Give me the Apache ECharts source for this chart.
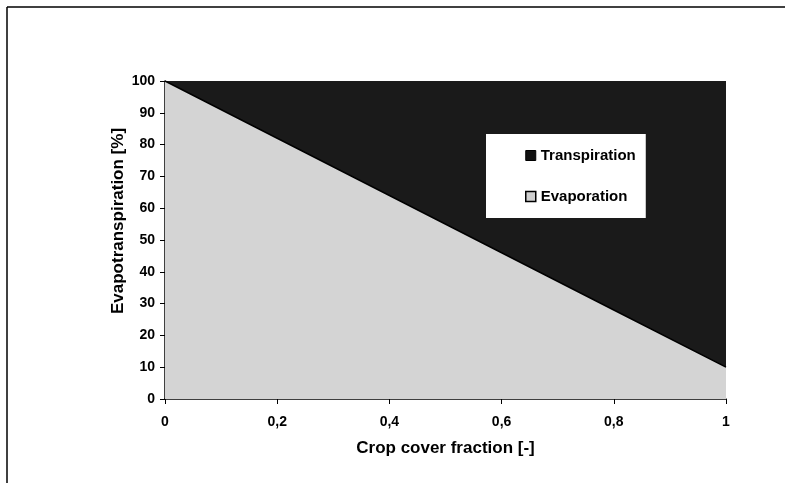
<!DOCTYPE html>
<html><head><meta charset="utf-8">
<script src="https://cdn.jsdelivr.net/npm/echarts@6/dist/echarts.min.js"></script>
<style>html,body{margin:0;padding:0;background:#fff}#c{width:793px;height:490px}</style>
</head><body><div id="c"></div>
<script>
var cropCover = ['0', '0,2', '0,4', '0,6', '0,8', '1'];
var evaporation = [100, 82, 64, 46, 28, 10];
var transpiration = [0, 18, 36, 54, 72, 90];
var yTicks = [0, 10, 20, 30, 40, 50, 60, 70, 80, 90, 100];

var chart = echarts.init(document.getElementById('c'));
var F = 'Liberation Sans, Arial, sans-serif';
chart.setOption({
  animation: false,
  backgroundColor: '#fff',
  grid: {left: 165, right: 67, top: 81, bottom: 91},
  legend: {
    orient: 'vertical', left: 486, top: 134,
    padding: [14, 10, 14, 39], itemGap: 26,
    backgroundColor: '#fff',
    itemWidth: 10, itemHeight: 10,
    textStyle: {fontFamily: F, fontWeight: 'bold', fontSize: 15, color: '#000'},
    data: [
      {name: 'Transpiration', icon: 'rect', itemStyle: {color: '#111', borderColor: '#000', borderWidth: 1}},
      {name: 'Evaporation', icon: 'rect', itemStyle: {color: '#cfcfcf', borderColor: '#000', borderWidth: 1.5}}
    ]
  },
  xAxis: {
    type: 'category', boundaryGap: false, data: cropCover,
    name: 'Crop cover fraction [-]', nameLocation: 'middle', nameGap: 41,
    nameTextStyle: {fontFamily: F, fontWeight: 'bold', fontSize: 17, color: '#000'},
    axisLine: {lineStyle: {color: '#000', width: 1.5}},
    axisTick: {show: true, length: 5, alignWithLabel: true, lineStyle: {color: '#000'}},
    splitLine: {show: false},
    axisLabel: {margin: 16, fontFamily: F, fontWeight: 'bold', fontSize: 14, color: '#000'}
  },
  yAxis: {
    type: 'value', min: yTicks[0], max: yTicks[yTicks.length - 1], interval: 10,
    axisLine: {show: true, lineStyle: {color: '#000', width: 1.5}},
    axisTick: {show: true, length: 5, lineStyle: {color: '#000'}},
    splitLine: {show: false},
    axisLabel: {margin: 10, fontFamily: F, fontWeight: 'bold', fontSize: 14, color: '#000'}
  },
  series: [
    {
      name: 'Evaporation', type: 'line', stack: 'et', symbol: 'none',
      data: evaporation,
      lineStyle: {color: '#000', width: 1.5},
      areaStyle: {color: '#d4d4d4', opacity: 1},
      itemStyle: {color: '#cfcfcf'}
    },
    {
      name: 'Transpiration', type: 'line', stack: 'et', symbol: 'none',
      data: transpiration,
      lineStyle: {width: 0},
      areaStyle: {color: '#1a1a1a', opacity: 1},
      itemStyle: {color: '#111'}
    }
  ],
  graphic: [
    {type: 'line', shape: {x1: 7, y1: 7, x2: 785, y2: 7}, style: {stroke: '#000', lineWidth: 1.5}},
    {type: 'line', shape: {x1: 7, y1: 7, x2: 7, y2: 483}, style: {stroke: '#000', lineWidth: 1.5}},
    {type: 'text', x: 118, y: 221, rotation: Math.PI / 2,
      style: {text: 'Evapotranspiration [%]', font: 'bold 17px Liberation Sans, Arial, sans-serif',
        fill: '#000', align: 'center', verticalAlign: 'middle'}}
  ]
});
</script></body></html>
